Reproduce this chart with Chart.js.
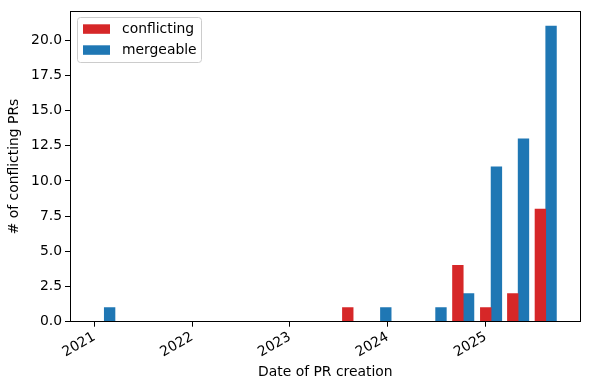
<!DOCTYPE html>
<html>
<head>
<meta charset="utf-8">
<script src="https://cdn.jsdelivr.net/npm/chart.js@4/dist/chart.umd.min.js"></script>
<style>
  html, body { margin: 0; padding: 0; background: #fff; }
  #wrap { width: 590px; height: 390px; }
</style>
</head>
<body>
<div id="wrap"><canvas id="prChart" width="590" height="390"></canvas></div>
<script>
// bin dates (centre of each bar pair) and counts
const binDates = ['2021-02-07', '2023-08-25', '2023-12-05', '2024-06-28',
                  '2024-10-09', '2025-01-21', '2025-05-02', '2025-08-13'];
const conflicting = [0, 1, 0, 0, 4, 1, 2, 8];
const mergeable = [1, 0, 1, 1, 2, 11, 13, 21];
const yearTicks = [2021, 2022, 2023, 2024, 2025];

const FONT = 'DejaVu Sans';
const ts = d => Date.parse(d + 'T00:00:00Z');

const toPoints = vals => binDates.map((d, i) => ({ x: ts(d), y: vals[i] }));

// legend box inside the axes, matplotlib style
const boxLegend = {
    id: 'boxLegend',
    afterDraw(chart) {
        const ctx = chart.ctx;
        const x = 77.5, y = 17.5, w = 124, h = 45;
        ctx.save();
        ctx.beginPath();
        ctx.roundRect(x, y, w, h, 3);
        ctx.fillStyle = 'rgba(255,255,255,0.8)';
        ctx.fill();
        ctx.strokeStyle = '#cccccc';
        ctx.lineWidth = 1;
        ctx.stroke();
        ctx.font = '13.9px ' + FONT;
        ctx.textBaseline = 'middle';
        chart.data.datasets.forEach((ds, i) => {
            const ry = 24.3 + i * 21;
            ctx.fillStyle = ds.backgroundColor;
            ctx.fillRect(83, ry, 27, 9.5);
            ctx.fillStyle = '#000';
            ctx.fillText(ds.label, 122, ry + 5);
        });
        ctx.restore();
    }
};

// top and right spines
const frame = {
    id: 'frame',
    afterDraw(chart) {
        const a = chart.chartArea;
        const ctx = chart.ctx;
        ctx.save();
        ctx.strokeStyle = '#000';
        ctx.lineWidth = 1;
        ctx.strokeRect(Math.round(a.left) + 0.5, Math.round(a.top) + 0.5,
                       Math.round(a.right - a.left) - 1, Math.round(a.bottom - a.top));
        ctx.restore();
    }
};

Chart.defaults.color = '#000';
Chart.defaults.font.family = FONT;
Chart.defaults.font.size = 13.9;

new Chart(document.getElementById('prChart').getContext('2d'), {
    type: 'bar',
    data: {
        datasets: [
            { label: 'conflicting', data: toPoints(conflicting), backgroundColor: '#d62728', borderWidth: 0 },
            { label: 'mergeable', data: toPoints(mergeable), backgroundColor: '#1f77b4', borderWidth: 0 }
        ]
    },
    options: {
        responsive: false,
        animation: false,
        barThickness: 10.7,
        layout: { padding: { top: 10.3, right: 9.3, left: 0, bottom: 0 } },
        plugins: {
            legend: { display: false },
            tooltip: { enabled: false }
        },
        scales: {
            x: {
                type: 'linear',
                offset: false,
                min: Date.UTC(2020, 9, 2),
                max: Date.UTC(2025, 11, 21, 14),
                afterBuildTicks: scale => {
                    scale.ticks = yearTicks.map(y => ({ value: Date.UTC(y, 0, 1) }));
                },
                afterFit: scale => { scale.height = 68.3; },
                ticks: {
                    autoSkip: false,
                    minRotation: 30,
                    maxRotation: 30,
                    padding: 2,
                    callback: v => String(new Date(v).getUTCFullYear())
                },
                grid: { offset: false, drawOnChartArea: false, drawTicks: true, tickLength: 5, color: '#000' },
                border: { display: true, color: '#000', width: 1 },
                title: {
                    display: true,
                    text: 'Date of PR creation',
                    padding: { top: 0, bottom: 9.6 }
                }
            },
            y: {
                min: 0,
                max: 22.05,
                afterFit: scale => { scale.width = 70; },
                ticks: {
                    stepSize: 2.5,
                    includeBounds: false,
                    padding: 3,
                    callback: v => v.toFixed(1)
                },
                grid: { drawOnChartArea: false, drawTicks: true, tickLength: 5, color: '#000' },
                border: { display: true, color: '#000', width: 1 },
                title: {
                    display: true,
                    text: '# of conflicting PRs',
                    padding: { top: 5.6, bottom: 0 }
                }
            }
        }
    },
    plugins: [boxLegend, frame]
});
</script>
</body>
</html>
